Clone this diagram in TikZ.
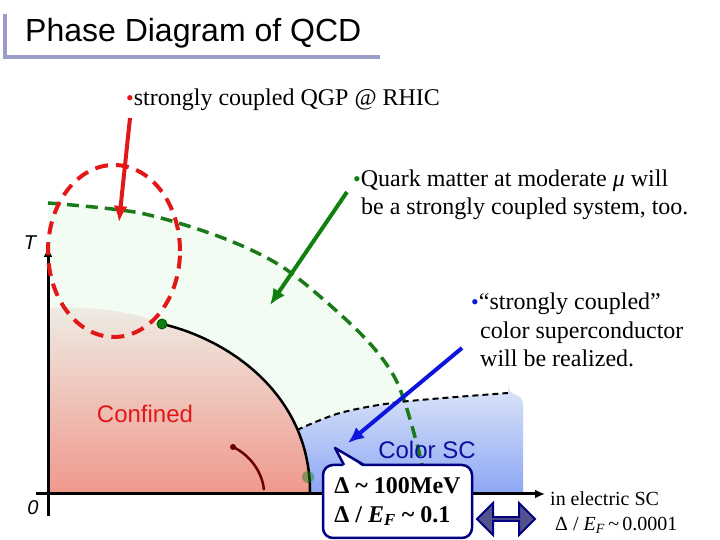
\documentclass[tikz,border=0pt]{standalone}
\usepackage{fontspec}
\setmainfont{Liberation Serif}
\setsansfont{Liberation Sans}
\usetikzlibrary{arrows.meta}
\usetikzlibrary{shapes.arrows}

\definecolor{qgpgreen}{RGB}{16,128,16}
\definecolor{dashgreen}{RGB}{26,122,26}
\definecolor{qgpred}{RGB}{226,24,24}
\definecolor{cscblue}{RGB}{12,20,222}
\definecolor{textblue}{RGB}{14,14,160}
\definecolor{boxnavy}{RGB}{0,0,128}
\definecolor{paleqgp}{RGB}{242,252,242}
\definecolor{titlebar}{RGB}{156,156,200}
\definecolor{slatearrow}{RGB}{82,82,140}
\definecolor{arcred}{RGB}{104,0,0}

\newcommand{\bulletdot}[1]{{\color{#1}\fontsize{22}{22}\selectfont\textbullet}}

\begin{document}
\begin{tikzpicture}[x=1pt,y=1pt,
    note/.style={anchor=west,align=left,inner sep=0pt,font=\fontsize{24}{28.5}\selectfont},
    pointer/.style={line width=4pt,-{Latex[length=16pt,width=14pt]}},
    axisline/.style={line width=3pt,-{Latex[length=10pt,width=9pt]}},
    phasename/.style={font=\sffamily\fontsize{24}{24}\selectfont}]
\useasboundingbox (-48,-46) rectangle (672,494);

% 标题
\draw[titlebar,line width=4pt] (-43,480) -- (-43,437) -- (332,437);
\node[anchor=west,inner sep=0pt,font=\sffamily\fontsize{32}{36}\selectfont] (title) at (-23,461) {Phase Diagram of QCD};

% 区域
\fill[paleqgp] (0,0) -- plot[smooth] coordinates {(0,291) (92,281) (175,256) (239,224) (312,161) (348,114) (369,50) (380,0)} -- cycle;
\shade[top color={rgb,255:red,238;green,236;blue,228}, bottom color={rgb,255:red,240;green,152;blue,140}]
    (0,0) -- (0,186) .. controls (50,188) and (90,181) .. (114,170)
    .. controls (180,155) and (262,100) .. (262,2) -- (262,0) -- cycle;
\shade[top color={rgb,255:red,214;green,224;blue,248}, bottom color={rgb,255:red,140;green,166;blue,244}]
    (249,64) .. controls (257,45) and (262,25) .. (262,2) -- (262,0) -- (475,0)
    [rounded corners=8pt] -- (475,98) -- (460,101) [sharp corners]
    -- plot[smooth] coordinates {(460,101) (352,92) (292,81) (249,64)} -- cycle;

% 相边界
\draw[dashgreen,line width=3.5pt,dash pattern=on 12pt off 7pt] plot[smooth] coordinates {(0,291) (92,281) (175,256) (239,224) (312,161) (348,114) (369,50) (380,0)};
\draw[black,line width=2pt,dash pattern=on 6pt off 4pt] plot[smooth] coordinates {(249,64) (292,81) (352,92) (460,101)};
\draw[black,line width=2.5pt] (114,170) .. controls (180,155) and (262,100) .. (262,2);
\filldraw[fill=qgpgreen,draw=black!70!green,line width=0.8pt] (114,170) circle (5pt);
\fill[qgpgreen,opacity=0.45] (260,17) circle (6pt);
\fill[arcred] (185,47) circle (3pt);
\draw[arcred,line width=2.5pt] (185,47) .. controls (200,40) and (214,24) .. (216,4);

% 绘制坐标轴
\draw[axisline] (-12,0) -- (497,0);
\draw[axisline] (0,-22) -- (0,247);
\node[font=\sffamily\itshape\fontsize{20}{20}\selectfont] (tlabel) at (-18,251) {T};
\node[font=\sffamily\itshape\fontsize{20}{20}\selectfont] (zero) at (-15,-14) {0};

\node[phasename,text=qgpred] (confined) at (97,80) {Confined};
\node[phasename,text=textblue] (colorsc) at (379,44) {Color SC};

% 说明文字
\node[note] (qgp) at (78,394) {\bulletdot{qgpred}strongly coupled QGP @ RHIC};
\node[note] (quark) at (305,299) {\bulletdot{qgpgreen}Quark matter at moderate \textit{μ} will\\\hspace*{8pt}be a strongly coupled system, too.};
\node[note] (csc) at (423,164) {\bulletdot{cscblue}“strongly coupled”\\\hspace*{9pt}color superconductor\\\hspace*{9pt}will be realized.};

\draw[qgpred,line width=4pt,dash pattern=on 13pt off 8pt] (66,243) ellipse [x radius=66pt, y radius=86pt];
\coordinate (qgptip) at (71,272);
\coordinate (quarktip) at (222,189);
\coordinate (csctip) at (300,51);
\draw[pointer,qgpred] (82,376) -- (qgptip);
\draw[pointer,qgpgreen] (299,302) -- (quarktip);
\draw[pointer,cscblue] (414,146) -- (csctip);

% 能隙
\node[draw=boxnavy,fill=white,line width=2.5pt,rounded corners=10pt,minimum width=149pt,minimum height=73pt,align=left,
      font=\bfseries\fontsize{24}{29}\selectfont] (gapbox) at (349.5,-7.5)
    {Δ \textasciitilde{} 100MeV\\Δ / \textit{E}\textsubscript{\textit{F}} \textasciitilde{} 0.1};
\fill[white] (296,26.5) -- (287,46) -- (316,26.5) -- cycle;
\draw[boxnavy,line width=2.5pt,line join=round] (296,29) -- (287,46) -- (316,29);

\node[double arrow,draw=boxnavy,fill=slatearrow,line width=2pt,inner sep=0pt,minimum width=32pt,minimum height=58pt,
      double arrow head extend=8pt] (compare) at (458,-25) {};
\node[anchor=west,align=left,inner sep=0pt,font=\fontsize{20}{25}\selectfont] (electric) at (502,-18.5)
    {in electric SC\\\hspace*{5pt}Δ / \textit{E}\textsubscript{\textit{F}}\,\textasciitilde\,0.0001};
\end{tikzpicture}
\end{document}
